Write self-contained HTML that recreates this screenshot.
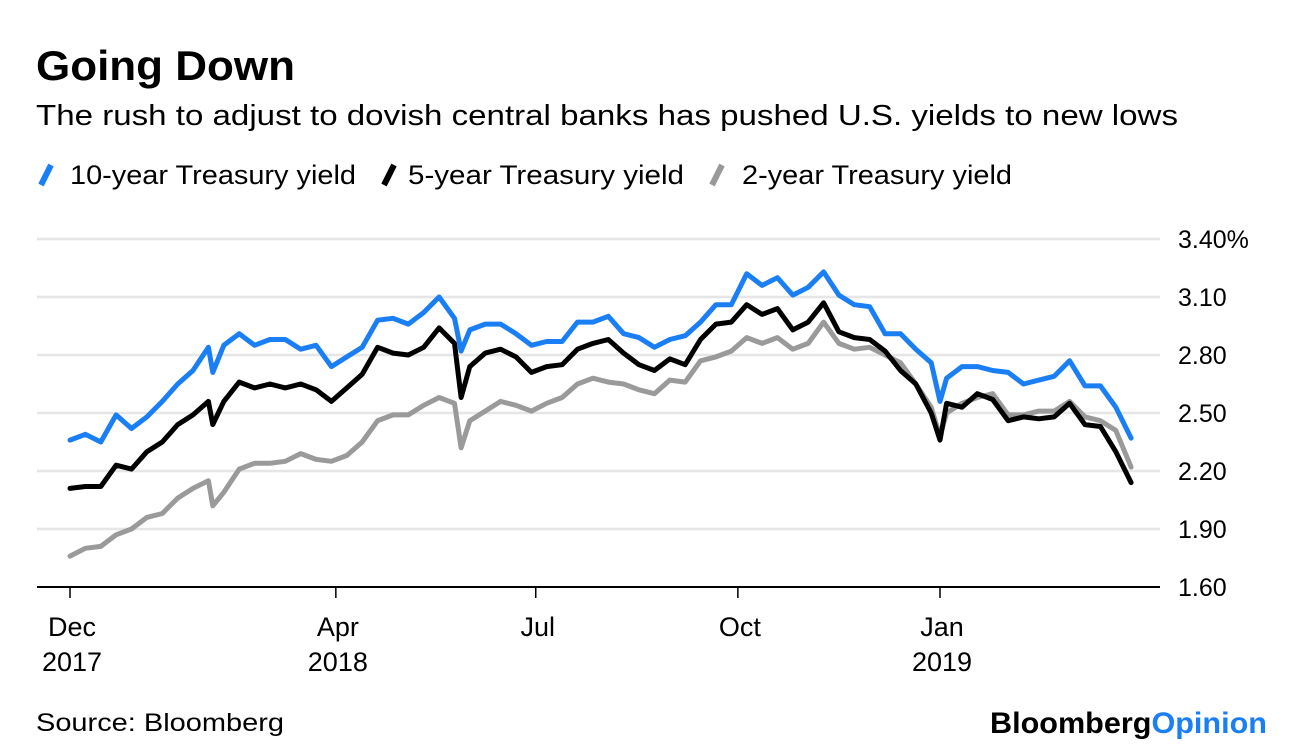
<!DOCTYPE html>
<html><head><meta charset="utf-8"><style>
html,body{margin:0;padding:0;background:#fff;}
svg{display:block;font-family:"Liberation Sans",Arial,sans-serif;}
</style></head><body>
<svg id="chart" width="1296" height="754" viewBox="0 0 1296 754">
<text x="36" y="80" font-size="42" font-weight="bold" fill="#000" textLength="259" lengthAdjust="spacingAndGlyphs">Going Down</text>
<text x="36" y="125" font-size="29" fill="#000" textLength="1142" lengthAdjust="spacingAndGlyphs">The rush to adjust to dovish central banks has pushed U.S. yields to new lows</text>
<g>
<g><line x1="41" y1="185" x2="51" y2="165" stroke="#1a7ef5" stroke-width="6"/><text x="70" y="184" font-size="27" fill="#000" textLength="286" lengthAdjust="spacingAndGlyphs">10-year Treasury yield</text></g>
<g><line x1="384" y1="185" x2="394" y2="165" stroke="#000" stroke-width="6"/><text x="408" y="184" font-size="27" fill="#000" textLength="276" lengthAdjust="spacingAndGlyphs">5-year Treasury yield</text></g>
<g><line x1="712" y1="185" x2="722" y2="165" stroke="#999" stroke-width="6"/><text x="742" y="184" font-size="27" fill="#000" textLength="270" lengthAdjust="spacingAndGlyphs">2-year Treasury yield</text></g>
</g>
<g id="grid"></g><g id="yticks"></g><g id="xticks"></g><g id="series"></g>
<text x="36" y="731" font-size="25" fill="#000" textLength="248" lengthAdjust="spacingAndGlyphs">Source: Bloomberg</text>
<text x="990" y="733" font-size="30" font-weight="bold" textLength="277" lengthAdjust="spacingAndGlyphs"><tspan fill="#000">Bloomberg</tspan><tspan fill="#1a7ef5">Opinion</tspan></text>
</svg>
<script>
const days = [0,7,14,21,28,35,42,49,56,63,65,70,77,84,91,98,105,112,119,126,133,140,147,154,161,168,175,178,182,189,196,203,210,217,224,231,238,245,252,259,266,273,280,287,294,301,308,315,322,329,336,343,350,357,364,371,378,385,392,396,399,406,413,420,427,434,441,448,455,462,469,476,483];
const y10 = [2.36,2.39,2.35,2.49,2.42,2.48,2.56,2.65,2.72,2.84,2.71,2.85,2.91,2.85,2.88,2.88,2.83,2.85,2.74,2.79,2.84,2.98,2.99,2.96,3.02,3.10,2.99,2.82,2.93,2.96,2.96,2.91,2.85,2.87,2.87,2.97,2.97,3.00,2.91,2.89,2.84,2.88,2.90,2.97,3.06,3.06,3.22,3.16,3.20,3.11,3.15,3.23,3.11,3.06,3.05,2.91,2.91,2.83,2.76,2.56,2.68,2.74,2.74,2.72,2.71,2.65,2.67,2.69,2.77,2.64,2.64,2.53,2.37];
const y5 = [2.11,2.12,2.12,2.23,2.21,2.30,2.35,2.44,2.49,2.56,2.44,2.56,2.66,2.63,2.65,2.63,2.65,2.62,2.56,2.63,2.70,2.84,2.81,2.80,2.84,2.94,2.86,2.58,2.74,2.81,2.83,2.79,2.71,2.74,2.75,2.83,2.86,2.88,2.81,2.75,2.72,2.78,2.75,2.88,2.96,2.97,3.06,3.01,3.04,2.93,2.97,3.07,2.92,2.89,2.88,2.82,2.72,2.65,2.50,2.36,2.55,2.53,2.60,2.57,2.46,2.48,2.47,2.48,2.55,2.44,2.43,2.30,2.14];
const y2 = [1.76,1.80,1.81,1.87,1.90,1.96,1.98,2.06,2.11,2.15,2.02,2.09,2.21,2.24,2.24,2.25,2.29,2.26,2.25,2.28,2.35,2.46,2.49,2.49,2.54,2.58,2.55,2.32,2.46,2.51,2.56,2.54,2.51,2.55,2.58,2.65,2.68,2.66,2.65,2.62,2.60,2.67,2.66,2.77,2.79,2.82,2.89,2.86,2.89,2.83,2.86,2.97,2.86,2.83,2.84,2.80,2.76,2.65,2.53,2.38,2.50,2.55,2.58,2.60,2.49,2.49,2.51,2.51,2.56,2.48,2.46,2.41,2.22];
const yTicks = [1.60,1.90,2.20,2.50,2.80,3.10,3.40];
const yTickLabels = ["1.60","1.90","2.20","2.50","2.80","3.10","3.40%"];
const xTickDays = [0,121,212,304,396];
const xTickMonths = ["Dec","Apr","Jul","Oct","Jan"];
const xTickYears = ["2017","2018","","","2019"];

const NS="http://www.w3.org/2000/svg";
const X0=70, PXDAY=870/396, YMIN=1.6, YMAX=3.4, YB=587, YT=239;
const xs=d=>X0+d*PXDAY;
const ys=v=>YB-(v-YMIN)/(YMAX-YMIN)*(YB-YT);
function mk(tag,attrs,parent){const e=document.createElementNS(NS,tag);for(const k in attrs)e.setAttribute(k,attrs[k]);parent.appendChild(e);return e;}
const grid=document.getElementById('grid'),yt=document.getElementById('yticks'),xt=document.getElementById('xticks'),ser=document.getElementById('series');
yTicks.forEach((v,i)=>{
  if(i>0){const g=mk('line',{x1:37,x2:1160,y1:ys(v),y2:ys(v),stroke:'#e6e6e6','stroke-width':2.5},grid);
  
  }
  const t=mk('text',{x:1178,y:ys(v)+9,'font-size':25,fill:'#000'},yt);
  t.textContent=yTickLabels[i];
  
  
});
const ax=mk('line',{x1:37,x2:1160,y1:YB,y2:YB,stroke:'#000','stroke-width':2},grid);


xTickDays.forEach((d,i)=>{
  const x=xs(d);
  const tk=mk('line',{x1:x,x2:x,y1:YB,y2:YB+11,stroke:'#000','stroke-width':1.5},xt);
  
  
  const t=mk('text',{x:x+2,y:636,'font-size':27,'text-anchor':'middle',fill:'#000'},xt);
  t.textContent=xTickMonths[i];
  
  
  if(xTickYears[i]){const t2=mk('text',{x:x+2,y:671,'font-size':27,'text-anchor':'middle',fill:'#000'},xt);
  t2.textContent=xTickYears[i];
  
  }
});
[[y2,'#9a9a9a','line-2-year'],[y5,'#000','line-5-year'],[y10,'#1a7ef5','line-10-year']].forEach(([arr,c,n])=>{
  const d=arr.map((v,i)=>(i?'L':'M')+xs(days[i]).toFixed(1)+' '+ys(v).toFixed(1)).join(' ');
  const p=mk('path',{d:d,fill:'none',stroke:c,'stroke-width':5,'stroke-linejoin':'round','stroke-linecap':'round'},ser);
  
  
});
</script>
</body></html>
